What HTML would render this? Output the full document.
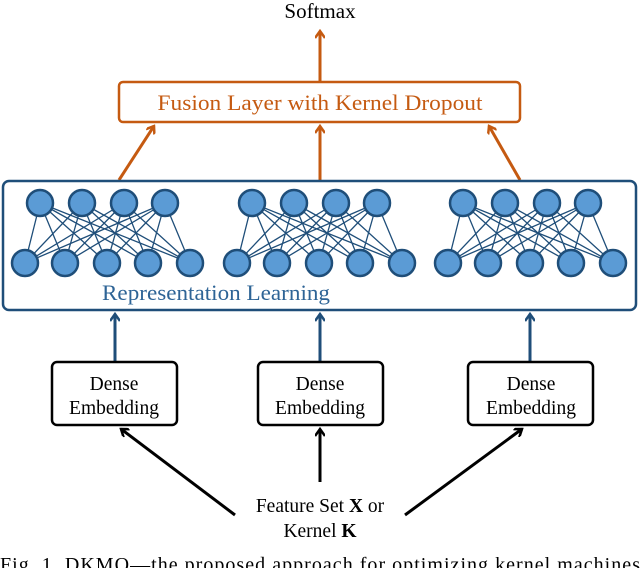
<!DOCTYPE html>
<html><head><style>body{margin:0;background:#fff}svg{display:block}</style></head><body>
<svg width="640" height="568" viewBox="0 0 640 568" xmlns="http://www.w3.org/2000/svg" font-family="Liberation Serif, serif">
<defs>
<marker id="ao" markerWidth="10" markerHeight="10" refX="8" refY="5" orient="auto" markerUnits="userSpaceOnUse"><path d="M1,0 L8,5 L1,10" fill="none" stroke="#c55a11" stroke-width="2.5"/></marker>
<marker id="ab" markerWidth="10" markerHeight="10" refX="8" refY="5" orient="auto" markerUnits="userSpaceOnUse"><path d="M1,0 L8,5 L1,10" fill="none" stroke="#1f4e79" stroke-width="2.5"/></marker>
<marker id="ak" markerWidth="10" markerHeight="10" refX="8" refY="5" orient="auto" markerUnits="userSpaceOnUse"><path d="M1,0 L8,5 L1,10" fill="none" stroke="#000" stroke-width="2.5"/></marker>
</defs>
<text x="320" y="18" font-size="21" text-anchor="middle">Softmax</text>
<line x1="320" y1="81" x2="320" y2="31" stroke="#c55a11" stroke-width="3" marker-end="url(#ao)"/>
<rect x="119" y="82" width="401" height="40" rx="4" fill="#fff" stroke="#c55a11" stroke-width="2.5"/>
<text x="320" y="110" font-size="22.5" fill="#c55a11" text-anchor="middle" textLength="325" lengthAdjust="spacingAndGlyphs">Fusion Layer with Kernel Dropout</text>
<line x1="119" y1="180" x2="154" y2="126" stroke="#c55a11" stroke-width="3" marker-end="url(#ao)"/>
<line x1="320" y1="180" x2="320" y2="126" stroke="#c55a11" stroke-width="3" marker-end="url(#ao)"/>
<line x1="520" y1="180" x2="489" y2="126" stroke="#c55a11" stroke-width="3" marker-end="url(#ao)"/>
<rect x="3" y="181" width="633" height="129" rx="6" fill="#fff" stroke="#1f4e79" stroke-width="2.5"/>
<g id="net" stroke="#1f4e79" stroke-width="1.3">
<path d="M40,203L25,263M40,203L65,263M40,203L107,263M40,203L148,263M40,203L190,263M82,203L25,263M82,203L65,263M82,203L107,263M82,203L148,263M82,203L190,263M124,203L25,263M124,203L65,263M124,203L107,263M124,203L148,263M124,203L190,263M165,203L25,263M165,203L65,263M165,203L107,263M165,203L148,263M165,203L190,263"/>
<g fill="#5b9bd5" stroke-width="2.5">
<circle cx="40" cy="203" r="13"/><circle cx="82" cy="203" r="13"/><circle cx="124" cy="203" r="13"/><circle cx="165" cy="203" r="13"/>
<circle cx="25" cy="263" r="13"/><circle cx="65" cy="263" r="13"/><circle cx="107" cy="263" r="13"/><circle cx="148" cy="263" r="13"/><circle cx="190" cy="263" r="13"/>
</g>
</g>
<use href="#net" x="212"/>
<use href="#net" x="423"/>
<text x="216" y="300" font-size="22.5" fill="#2e6496" text-anchor="middle" textLength="228" lengthAdjust="spacingAndGlyphs">Representation Learning</text>
<g stroke="#1f4e79" stroke-width="3">
<line x1="115" y1="362" x2="115" y2="314" marker-end="url(#ab)"/>
<line x1="320" y1="362" x2="320" y2="314" marker-end="url(#ab)"/>
<line x1="530" y1="362" x2="530" y2="314" marker-end="url(#ab)"/>
</g>
<g fill="#fff" stroke="#000" stroke-width="2.5">
<rect x="52" y="362" width="125" height="63" rx="5"/>
<rect x="258" y="362" width="125" height="63" rx="5"/>
<rect x="468" y="362" width="125" height="63" rx="5"/>
</g>
<g font-size="19.5" text-anchor="middle">
<text x="114" y="390">Dense</text><text x="114" y="414">Embedding</text>
<text x="320" y="390">Dense</text><text x="320" y="414">Embedding</text>
<text x="531" y="390">Dense</text><text x="531" y="414">Embedding</text>
</g>
<g stroke="#000" stroke-width="3">
<line x1="235" y1="515" x2="121" y2="429" marker-end="url(#ak)"/>
<line x1="320" y1="482" x2="320" y2="429" marker-end="url(#ak)"/>
<line x1="405" y1="515" x2="522" y2="429" marker-end="url(#ak)"/>
</g>
<g font-size="19.5" text-anchor="middle">
<text x="320" y="512">Feature Set <tspan font-weight="bold">X</tspan> or</text>
<text x="320" y="537">Kernel <tspan font-weight="bold">K</tspan></text>
</g>
<text x="0" y="571" font-size="20" textLength="640" lengthAdjust="spacing">Fig. 1.    DKMO—the proposed approach for optimizing kernel machines</text>
</svg>
</body></html>
